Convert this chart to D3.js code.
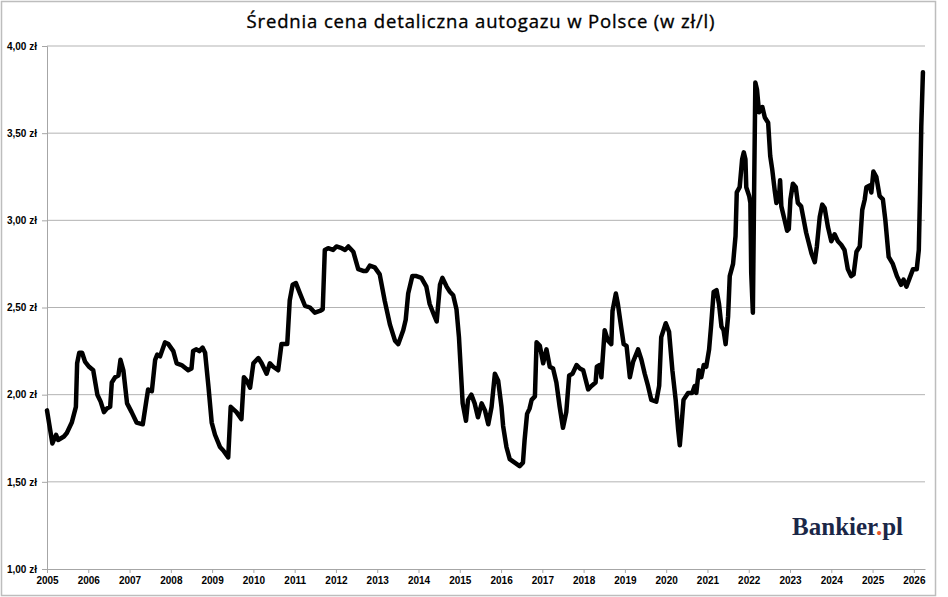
<!DOCTYPE html>
<html>
<head>
<meta charset="utf-8">
<script src="https://cdn.jsdelivr.net/npm/d3@7"></script>
<style>
  body { margin: 0; background: #fff; }
  .tick text { font-family: "Liberation Sans", Arial, sans-serif; font-weight: bold; font-size: 10px; fill: #000; }
</style>
</head>
<body>
<div id="chart"></div>
<script>
// time (decimal year) and average LPG price, zł/l
var dates = [
  2005.00, 2005.13, 2005.22, 2005.27, 2005.41, 2005.48, 2005.60, 2005.70, 2005.73, 2005.78,
  2005.85, 2005.92, 2006.02, 2006.12, 2006.22, 2006.30, 2006.38, 2006.45, 2006.53, 2006.57,
  2006.65, 2006.73, 2006.78, 2006.85, 2006.94, 2007.05, 2007.17, 2007.32, 2007.41, 2007.45,
  2007.54, 2007.62, 2007.67, 2007.74, 2007.86, 2007.94, 2008.06, 2008.14, 2008.26, 2008.42,
  2008.50, 2008.54, 2008.62, 2008.69, 2008.77, 2008.83, 2008.91, 2008.99, 2009.07, 2009.19,
  2009.27, 2009.39, 2009.45, 2009.59, 2009.71, 2009.77, 2009.84, 2009.92, 2010.00, 2010.12,
  2010.20, 2010.32, 2010.40, 2010.48, 2010.60, 2010.68, 2010.82, 2010.88, 2010.95, 2011.03,
  2011.13, 2011.25, 2011.37, 2011.49, 2011.61, 2011.68, 2011.73, 2011.81, 2011.93, 2012.01,
  2012.14, 2012.22, 2012.30, 2012.42, 2012.54, 2012.66, 2012.74, 2012.82, 2012.94, 2013.06,
  2013.18, 2013.31, 2013.43, 2013.51, 2013.63, 2013.69, 2013.75, 2013.85, 2013.95, 2014.07,
  2014.19, 2014.27, 2014.37, 2014.44, 2014.52, 2014.58, 2014.68, 2014.76, 2014.84, 2014.92,
  2014.98, 2015.07, 2015.15, 2015.20, 2015.28, 2015.36, 2015.44, 2015.53, 2015.61, 2015.69,
  2015.77, 2015.85, 2015.93, 2016.01, 2016.05, 2016.13, 2016.21, 2016.33, 2016.45, 2016.53,
  2016.57, 2016.63, 2016.69, 2016.74, 2016.82, 2016.86, 2016.94, 2017.02, 2017.10, 2017.18,
  2017.26, 2017.34, 2017.42, 2017.50, 2017.58, 2017.65, 2017.73, 2017.83, 2017.91, 2017.99,
  2018.11, 2018.19, 2018.29, 2018.32, 2018.39, 2018.43, 2018.51, 2018.59, 2018.67, 2018.70,
  2018.78, 2018.83, 2018.92, 2018.97, 2019.04, 2019.12, 2019.20, 2019.32, 2019.40, 2019.48,
  2019.56, 2019.64, 2019.76, 2019.83, 2019.88, 2019.99, 2020.07, 2020.15, 2020.23, 2020.29,
  2020.33, 2020.37, 2020.42, 2020.53, 2020.63, 2020.69, 2020.73, 2020.79, 2020.85, 2020.91,
  2020.97, 2021.04, 2021.09, 2021.15, 2021.22, 2021.28, 2021.34, 2021.39, 2021.44, 2021.50,
  2021.54, 2021.62, 2021.68, 2021.71, 2021.78, 2021.84, 2021.88, 2021.92, 2021.94, 2022.01,
  2022.04, 2022.06, 2022.10, 2022.13, 2022.16, 2022.20, 2022.25, 2022.33, 2022.39, 2022.47,
  2022.52, 2022.57, 2022.63, 2022.67, 2022.73, 2022.76, 2022.79, 2022.87, 2022.93, 2022.97,
  2023.01, 2023.07, 2023.14, 2023.19, 2023.27, 2023.39, 2023.52, 2023.60, 2023.65, 2023.72,
  2023.78, 2023.84, 2023.92, 2024.00, 2024.08, 2024.16, 2024.24, 2024.32, 2024.40, 2024.48,
  2024.54, 2024.61, 2024.69, 2024.75, 2024.81, 2024.85, 2024.93, 2024.97, 2025.02, 2025.09,
  2025.17, 2025.25, 2025.31, 2025.39, 2025.49, 2025.59, 2025.69, 2025.75, 2025.82, 2025.90,
  2025.98, 2026.07, 2026.12, 2026.15, 2026.18, 2026.22
];
var prices = [
  1.91, 1.72, 1.77, 1.74, 1.76, 1.78, 1.84, 1.93, 2.18, 2.24,
  2.24, 2.19, 2.16, 2.14, 2.00, 1.96, 1.90, 1.92, 1.93, 2.07,
  2.10, 2.11, 2.20, 2.14, 1.95, 1.90, 1.84, 1.83, 1.97, 2.03,
  2.02, 2.20, 2.23, 2.22, 2.30, 2.29, 2.25, 2.18, 2.17, 2.14,
  2.15, 2.25, 2.26, 2.25, 2.27, 2.24, 2.05, 1.84, 1.77, 1.70,
  1.68, 1.64, 1.93, 1.90, 1.86, 2.10, 2.08, 2.04, 2.18, 2.21,
  2.18, 2.12, 2.18, 2.16, 2.14, 2.29, 2.29, 2.54, 2.63, 2.64,
  2.58, 2.51, 2.50, 2.47, 2.48, 2.49, 2.83, 2.84, 2.83, 2.85,
  2.84, 2.83, 2.85, 2.82, 2.72, 2.71, 2.71, 2.74, 2.73, 2.69,
  2.54, 2.40, 2.31, 2.29, 2.37, 2.43, 2.58, 2.68, 2.68, 2.67,
  2.62, 2.52, 2.46, 2.42, 2.63, 2.67, 2.62, 2.59, 2.57, 2.49,
  2.33, 1.95, 1.85, 1.97, 2.00, 1.95, 1.87, 1.95, 1.91, 1.83,
  1.93, 2.12, 2.08, 1.93, 1.82, 1.70, 1.63, 1.61, 1.59, 1.61,
  1.74, 1.89, 1.92, 1.97, 1.99, 2.30, 2.28, 2.18, 2.26, 2.16,
  2.15, 2.07, 1.93, 1.81, 1.90, 2.11, 2.12, 2.17, 2.15, 2.14,
  2.03, 2.05, 2.07, 2.16, 2.17, 2.10, 2.37, 2.31, 2.29, 2.48,
  2.58, 2.52, 2.37, 2.29, 2.28, 2.10, 2.19, 2.26, 2.20, 2.12,
  2.05, 1.97, 1.96, 2.05, 2.33, 2.41, 2.36, 2.14, 1.97, 1.80,
  1.71, 1.82, 1.97, 2.01, 2.01, 2.05, 2.01, 2.14, 2.10, 2.17,
  2.16, 2.26, 2.40, 2.59, 2.60, 2.52, 2.39, 2.37, 2.29, 2.45,
  2.68, 2.75, 2.91, 3.16, 3.19, 3.35, 3.39, 3.35, 3.19, 3.14,
  3.10, 2.70, 2.47, 3.16, 3.79, 3.75, 3.62, 3.65, 3.59, 3.56,
  3.37, 3.29, 3.17, 3.10, 3.12, 3.23, 3.08, 3.00, 2.94, 2.95,
  3.12, 3.21, 3.19, 3.10, 3.08, 2.93, 2.81, 2.76, 2.85, 3.02,
  3.09, 3.07, 2.96, 2.88, 2.92, 2.88, 2.86, 2.83, 2.72, 2.68,
  2.69, 2.82, 2.85, 3.06, 3.12, 3.19, 3.20, 3.16, 3.28, 3.25,
  3.14, 3.12, 3.00, 2.79, 2.75, 2.68, 2.63, 2.66, 2.62, 2.67,
  2.72, 2.72, 2.83, 3.16, 3.54, 3.85
];
var yTicks = [1.0, 1.5, 2.0, 2.5, 3.0, 3.5, 4.0];
var xTicks = [2005, 2006, 2007, 2008, 2009, 2010, 2011, 2012, 2013, 2014, 2015,
              2016, 2017, 2018, 2019, 2020, 2021, 2022, 2023, 2024, 2025, 2026];
var title = "Średnia cena detaliczna autogazu w Polsce (w zł/l)";

var W = 948, H = 597,
    margin = {top: 46, right: 23, bottom: 28, left: 47},
    plotW = 925 - margin.left,
    plotH = 569 - margin.top;

var svg = d3.select("#chart").append("svg")
    .attr("width", W)
    .attr("height", H);

// chart frame
svg.append("rect")
    .attr("x", 1.5).attr("y", 1.5)
    .attr("width", 934).attr("height", 594)
    .attr("fill", "#fff")
    .attr("stroke", "#bdbdbd")
    .attr("stroke-width", 1.5);

svg.append("text")
    .attr("x", 481).attr("y", 28)
    .attr("text-anchor", "middle")
    .style("font-family", "'Open Sans', sans-serif")
    .style("font-size", "18.5px")
    .style("letter-spacing", "0.85px")
    .attr("fill", "#000")
    .attr("stroke", "#000")
    .attr("stroke-width", 0.35)
    .text(title);

var g = svg.append("g")
    .attr("transform", "translate(" + margin.left + "," + margin.top + ")");

var x = d3.scaleLinear().domain([2005, 2026.27]).range([0, plotW]);
var y = d3.scaleLinear().domain([1, 4]).range([plotH, 0]);

// gridlines
g.selectAll("line.grid")
  .data(yTicks.slice(1))
  .enter().append("line")
    .attr("class", "grid")
    .attr("x1", 0).attr("x2", plotW)
    .attr("y1", function (d) { return y(d); })
    .attr("y2", function (d) { return y(d); })
    .attr("stroke", "#b3b3b3")
    .attr("stroke-width", 1);

var fmt = function (d) { return d3.format(".2f")(d).replace(".", ",") + " zł"; };

var yAxis = g.append("g")
    .call(d3.axisLeft(y).tickValues(yTicks).tickFormat(fmt).tickSize(5).tickPadding(5));
yAxis.select(".domain").attr("stroke", "#a6a6a6");
yAxis.selectAll(".tick line").attr("stroke", "#a6a6a6");

var xAxis = g.append("g")
    .attr("transform", "translate(0," + plotH + ")")
    .call(d3.axisBottom(x).tickValues(xTicks).tickFormat(d3.format("d")).tickSizeInner(4).tickSizeOuter(0).tickPadding(4));
xAxis.select(".domain").attr("stroke", "#a6a6a6");
xAxis.selectAll(".tick line").attr("stroke", "#a6a6a6");

var line = d3.line()
    .x(function (d, i) { return x(dates[i]); })
    .y(function (d) { return y(d); });

g.append("path")
    .datum(prices)
    .attr("d", line)
    .attr("fill", "none")
    .attr("stroke", "#000")
    .attr("stroke-width", 4.5)
    .attr("stroke-linejoin", "round")
    .attr("stroke-linecap", "round");

// logo
var logo = svg.append("text")
    .attr("x", 903).attr("y", 535)
    .attr("text-anchor", "end")
    .style("font-family", "'Liberation Serif', 'DejaVu Serif', serif")
    .style("font-weight", "bold")
    .style("font-size", "25px")
    .attr("fill", "#1b2747");
logo.append("tspan").text("Bankier");
logo.append("tspan").attr("fill", "#e8562c").text(".");
logo.append("tspan").text("pl");
</script>
</body>
</html>
